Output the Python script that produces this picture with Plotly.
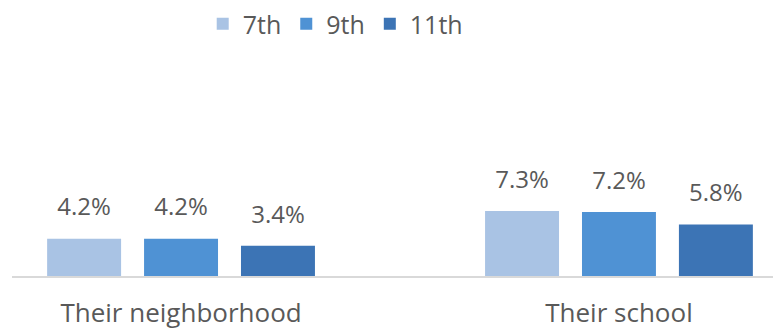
import plotly.graph_objects as go

categories = ["Their neighborhood", "Their school"]
grades = ["7th", "9th", "11th"]
values_7th = [4.2, 7.3]
values_9th = [4.2, 7.2]
values_11th = [3.4, 5.8]

colors = {"7th": "#a9c3e4", "9th": "#4f92d4", "11th": "#3c74b5"}
series = {"7th": values_7th, "9th": values_9th, "11th": values_11th}

FONT = "Open Sans"
GRAY = "#595959"
BARGAP = 0.336

fig = go.Figure()
for g in grades:
    fig.add_trace(go.Bar(
        x=categories,
        y=series[g],
        name=g,
        offsetgroup=g,
        marker=dict(color=colors[g], line=dict(width=0)),
    ))
# value labels, grouped the same way as the bars
for g in grades:
    fig.add_trace(go.Scatter(
        x=categories,
        y=series[g],
        offsetgroup=g,
        mode="markers+text",
        marker=dict(size=26, opacity=0),
        text=[f"{v:.1f}%" for v in series[g]],
        textposition="top center",
        textfont=dict(family=FONT, size=24, color=GRAY),
        showlegend=False,
        hoverinfo="skip",
        cliponaxis=False,
    ))

fig.update_layout(
    width=773,
    height=325,
    margin=dict(l=4, r=0, t=42, b=57, autoexpand=False),
    paper_bgcolor="white",
    plot_bgcolor="white",
    barmode="group",
    bargap=BARGAP,
    bargroupgap=0.237,
    scattermode="group",
    scattergap=BARGAP,
    showlegend=True,
    legend=dict(
        orientation="h",
        x=0.248, y=1.115, xanchor="left", yanchor="middle",
        font=dict(family=FONT, size=25, color=GRAY),
        itemwidth=30,
        bgcolor="rgba(0,0,0,0)",
    ),
    font=dict(family=FONT, color=GRAY),
)
fig.update_xaxes(
    range=[-0.386, 1.37],
    showline=True, linecolor="#d9d9d9", linewidth=2,
    showgrid=False, ticks="",
    tickfont=dict(family=FONT, size=26, color=GRAY),
    ticklabelstandoff=13,
)
fig.update_yaxes(range=[0, 25.4], visible=False, showgrid=False)

fig.write_html("out.html")
